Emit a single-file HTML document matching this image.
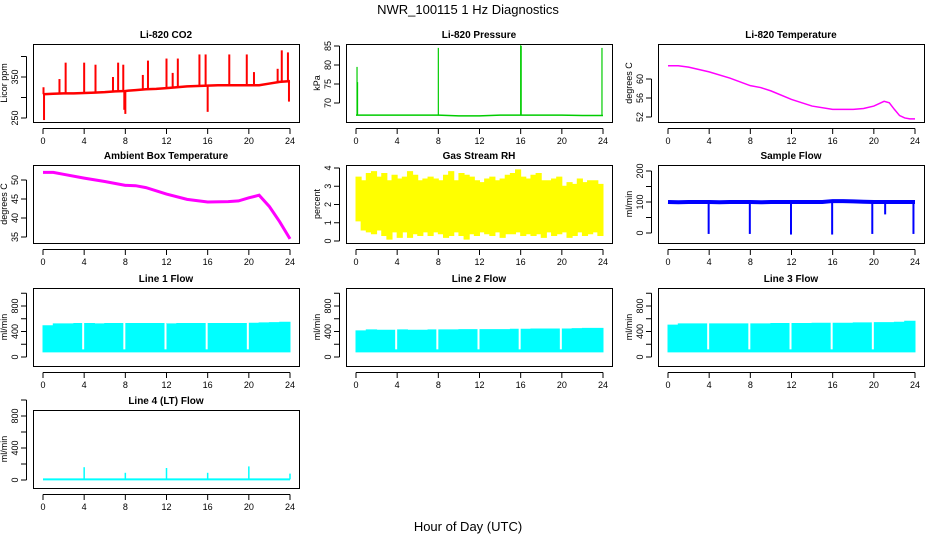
<!DOCTYPE html>
<html><head><meta charset="utf-8"><style>
body{margin:0;background:#fff}
svg{display:block;font-family:"Liberation Sans",Arial,sans-serif}
</style></head><body>
<svg id="c" width="936" height="540" viewBox="0 0 936 540">
<text x="468" y="14" text-anchor="middle" font-size="13">NWR_100115  1 Hz Diagnostics</text>
<text x="468" y="531" text-anchor="middle" font-size="13">Hour of Day (UTC)</text>
</svg>
<script>
// ---- data ----
const hourTicks=[0,4,8,12,16,20,24];
const co2Hours=[0,1,2,3,4,5,6,7,8,9,10,11,12,13,14,15,16,17,18,19,20,21,22,23,24];
const co2Base=[308,309,310,310,311,312,313,315,316,318,320,321,323,325,327,328,329,330,330,330,330,330,334,338,340];
const co2SpikeH=[0.05,0.1,1.6,2.2,4,5.1,6.8,7.3,7.8,7.9,8,9.7,10.2,12,12.6,13.1,15.2,15.8,16,18.1,19.8,20.5,22.8,23.2,23.8,23.9];
const co2SpikeV=[325,245,345,385,385,380,350,385,380,270,260,355,390,395,360,395,405,405,265,405,405,362,370,415,410,290];
const presHours=[0,2,4,6,8,10,12,14,16,18,20,22,24];
const presBase=[66.8,66.8,66.8,66.8,66.8,66.6,66.6,66.8,66.8,66.8,66.8,66.7,66.7];
const presSpikeH=[0.1,0.15,8,16,16.05,23.9];
const presSpikeV=[79.5,75.5,84.5,85.2,85,84.5];
const tempHours=[0,1,2,4,6,8,9,10,12,14,16,18,19,20,20.5,21,21.5,22,22.5,23,23.5,24];
const tempVals=[62.8,62.8,62.5,61.5,60.2,58.6,58.2,57.5,55.7,54.3,53.6,53.6,53.8,54.3,54.8,55.3,55.0,53.6,52.3,51.8,51.6,51.6];
const ambHours=[0,1,2,4,6,8,9,10,12,14,16,18,19,20,21,22,23,24];
const ambVals=[52,52,51.5,50.5,49.6,48.6,48.5,48,46.3,44.9,44.2,44.3,44.5,45.3,46,43,39,34.5];
const rhHi=[3.5,3.3,3.7,3.8,3.5,3.7,3.3,3.6,3.4,3.5,3.8,3.6,3.3,3.4,3.5,3.4,3.3,3.6,3.8,3.3,3.7,3.6,3.5,3.3,3.2,3.4,3.5,3.3,3.4,3.6,3.7,3.9,3.5,3.4,3.6,3.7,3.3,3.3,3.4,3.5,3.0,3.2,3.1,3.4,3.2,3.3,3.3,3.1,2.5];
const rhLo=[1.1,0.6,0.5,0.4,0.6,0.3,0.1,0.5,0.2,0.5,0.2,0.4,0.3,0.5,0.3,0.5,0.4,0.2,0.3,0.5,0.3,0.1,0.4,0.3,0.5,0.4,0.3,0.5,0.2,0.4,0.4,0.5,0.3,0.4,0.3,0.4,0.2,0.5,0.3,0.4,0.5,0.2,0.3,0.5,0.3,0.4,0.5,0.3,1.0];
const flowGapH=[4,8,12,16,20];
const sampleBase=[100,99,100,100,100,99,100,100,100,99,100,100,100,100,100,100,103,103,102,101,100,100,100,100,100];
const sampleDipH=[3.95,7.95,11.95,15.95,19.85,21.1,23.85];
const sampleDipV=[-3,-3,-5,-5,-3,60,-3];
const l1Top=[490,520,520,525,525,520,525,525,525,525,525,525,520,525,525,525,525,525,525,525,530,535,540,545,480];
const l2Top=[410,425,420,420,425,420,420,425,425,425,430,430,430,430,430,435,435,440,440,440,440,445,450,450,440];
const l3Top=[500,520,520,520,520,520,520,520,520,520,525,525,525,525,530,530,530,530,535,535,540,540,545,560,480];
const flowLo=80;
const l4SpikeH=[4,8,12,16,20,24];
const l4SpikeV=[160,90,150,90,170,80];
const l4Base=8;

const svg=document.getElementById('c');
const NS='http://www.w3.org/2000/svg';
function mk(t,a,p){const e=document.createElementNS(NS,t);for(const k in a)e.setAttribute(k,a[k]);(p||svg).appendChild(e);return e;}
const colL=[33,346,658],rowT=[44,165,288,410],BW=266,BH=78;
function panel(col,row,title,ylab,v1,p1,v2,p2,ticks,labels,name){
  const L=colL[col],T=rowT[row];
  const g=mk('g',{});
  
  
  const x=h=>L+10+h*(247/24);
  const y=v=>p1+(v-v1)*(p2-p1)/(v2-v1);
  const t=mk('text',{x:L+BW/2,y:T-6,'text-anchor':'middle','font-size':10,'font-weight':'bold'},g);t.textContent=title;
  
  
  const ax=mk('g',{stroke:'#000','stroke-width':1,fill:'none'},g);
  
  
  mk('rect',{x:L+.5,y:T+.5,width:BW,height:BH},ax);
  mk('line',{x1:x(0),x2:x(24),y1:T+BH+6.5,y2:T+BH+6.5},ax);
  hourTicks.forEach(h=>{mk('line',{x1:x(h),x2:x(h),y1:T+BH+6.5,y2:T+BH+12},ax);
    const tl=mk('text',{x:x(h),y:T+BH+22,'text-anchor':'middle','font-size':9,stroke:'none',fill:'#000'},g);tl.textContent=h;
    
    });
  mk('line',{x1:L-6.5,x2:L-6.5,y1:y(ticks[0]),y2:y(ticks[ticks.length-1])},ax);
  ticks.forEach(v=>{mk('line',{x1:L-12,x2:L-6.5,y1:y(v),y2:y(v)},ax);
    if(labels.includes(v)){const tl=mk('text',{x:L-15,y:y(v),'text-anchor':'middle','font-size':9,transform:`rotate(-90 ${L-15} ${y(v)})`},g);tl.textContent=v;
    
    }});
  const yl=mk('text',{x:L-26,y:T+BH/2,'text-anchor':'middle','font-size':9,transform:`rotate(-90 ${L-26} ${T+BH/2})`},g);yl.textContent=ylab;
  
  
  const d=mk('g',{},g);
  
  
  return {x,y,d};
}
function line(p,hs,vs,col,w){let s='';hs.forEach((h,i)=>s+=(i?'L':'M')+p.x(h)+' '+p.y(vs[i]));return mk('path',{d:s,stroke:col,'stroke-width':w,fill:'none'},p.d);}
function spikes(p,hs,vs,baseFn,col,w){hs.forEach((h,i)=>{mk('line',{x1:p.x(h),x2:p.x(h),y1:p.y(baseFn(h)),y2:p.y(vs[i]),stroke:col,'stroke-width':w},p.d);});}
function interpBase(hs,vs){return h=>{for(let i=1;i<hs.length;i++)if(h<=hs[i]){const f=(h-hs[i-1])/(hs[i]-hs[i-1]);return vs[i-1]+f*(vs[i]-vs[i-1]);}return vs[vs.length-1];};}

// CO2
let p=panel(0,0,'Li-820 CO2','Licor ppm',250,118,350,77,[250,300,350,400],[250,350],'co2');
line(p,co2Hours,co2Base,'#f00',2.5);
spikes(p,co2SpikeH,co2SpikeV,interpBase(co2Hours,co2Base),'#f00',2);
// Pressure
p=panel(1,0,'Li-820 Pressure','kPa',70,103,85,46,[70,75,80,85],[70,75,80,85],'pressure');
line(p,presHours,presBase,'#0c0',1.5);
spikes(p,presSpikeH,presSpikeV,h=>66.8,'#0c0',1.2);
// Temp
p=panel(2,0,'Li-820 Temperature','degrees C',52,117,60,79,[52,56,60],[52,56,60],'li820-temp');
line(p,tempHours,tempVals,'#f0f',1.5);
// Ambient
p=panel(0,1,'Ambient Box Temperature','degrees C',35,237,50,180,[35,40,45,50],[35,40,45,50],'ambient-temp');
line(p,ambHours,ambVals,'#f0f',3);
// RH
p=panel(1,1,'Gas Stream RH','percent',0,241,4,168,[0,1,2,3,4],[0,1,2,3,4],'rh');
{let s='';rhHi.forEach((v,i)=>{const h=i/2;s+=(i?'L':'M')+p.x(h)+' '+p.y(v)+'L'+p.x(Math.min(24,h+0.5))+' '+p.y(v);});
for(let i=rhLo.length-1;i>=0;i--){const h=i/2;s+='L'+p.x(Math.min(24,h+0.5))+' '+p.y(rhLo[i])+'L'+p.x(h)+' '+p.y(rhLo[i]);}
mk('path',{d:s+'Z',fill:'#ff0',stroke:'#ff0','stroke-width':1},p.d);}
// Sample flow
p=panel(2,1,'Sample Flow','ml/min',0,233,200,171,[0,50,100,150,200],[0,100,200],'sample-flow');
line(p,co2Hours,sampleBase,'#00f',4);
spikes(p,sampleDipH,sampleDipV,h=>98,'#00f',2);
// Line flows
function flowPanel(row,col,title,top,name){
  const q=panel(col,row,title,'ml/min',0,row==3?480:357,800,row==3?416:306,[0,200,400,600,800,1000],[0,400,800],name);
  if(top){let s='';top.forEach((v,i)=>{s+=(i?'L':'M')+q.x(i)+' '+q.y(v)+'L'+q.x(Math.min(24,i+1))+' '+q.y(v);});
    s+='L'+q.x(24)+' '+q.y(flowLo)+'L'+q.x(0)+' '+q.y(flowLo)+'Z';
    mk('path',{d:s,fill:'#0ff',stroke:'#0ff','stroke-width':1},q.d);
    flowGapH.forEach(h=>mk('line',{x1:q.x(h)-1,x2:q.x(h)-1,y1:q.y(600),y2:q.y(flowLo+40),stroke:'#fff','stroke-width':2},q.d));}
  return q;
}
flowPanel(2,0,'Line 1 Flow',l1Top,'line1-flow');
flowPanel(2,1,'Line 2 Flow',l2Top,'line2-flow');
flowPanel(2,2,'Line 3 Flow',l3Top,'line3-flow');
p=flowPanel(3,0,'Line 4 (LT) Flow',null,'line4-flow');
mk('line',{x1:p.x(0),x2:p.x(24),y1:p.y(l4Base),y2:p.y(l4Base),stroke:'#0ff','stroke-width':2},p.d);
spikes(p,l4SpikeH,l4SpikeV,h=>l4Base,'#0ff',1.5);
</script>
</body></html>
